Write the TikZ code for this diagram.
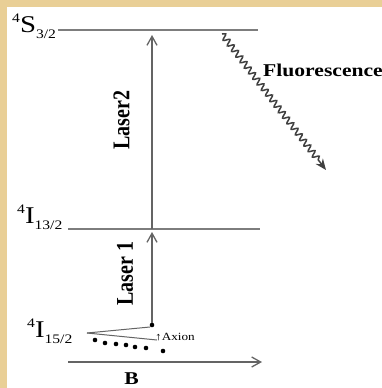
\documentclass[tikz,border=0pt]{standalone}
\usepackage{fontspec}
\setmainfont{Liberation Serif}
\usepackage{graphicx}
\usetikzlibrary{arrows.meta,decorations.pathmorphing}
\definecolor{parch}{RGB}{233,207,150}
\definecolor{lvlcol}{RGB}{125,125,125}
\definecolor{arrcol}{RGB}{100,100,100}
\newcommand{\hs}[1]{\scalebox{1.2}[1]{#1}}
\newcommand{\vs}[1]{\scalebox{1}[1.2]{#1}}
\newcommand{\lvlname}[3]{\hs{{\fontsize{13}{13}\selectfont\raisebox{10pt}{#1}}{\fontsize{24}{24}\selectfont #2}{\fontsize{13}{13}\selectfont\raisebox{-6pt}{#3}}}}
\begin{document}
\begin{tikzpicture}[x=1pt,y=-1pt,
  levelline/.style={draw=lvlcol,line width=2pt},
  laser/.style={draw=arrcol,line width=1.3pt,-{Straight Barb[length=9pt,width=10pt]}},
  thinline/.style={draw=arrcol,line width=1pt},
  lab/.style={inner sep=0pt,font=\fontsize{20}{20}\selectfont\bfseries},
  lvltxt/.style={inner sep=0pt,anchor=base west},
  dotnode/.style={circle,fill=black,inner sep=0pt,minimum size=4.6pt},
  fluor/.style={draw=black!75,line width=1.5pt,decorate,
    decoration={snake,amplitude=3pt,segment length=7pt,post length=10pt},
    -{Stealth[length=11pt,width=9pt]}}]
\useasboundingbox (0,0) rectangle (382,388);
\fill[parch] (0,0) rectangle (382,388);
\fill[white] (7,7) rectangle (400,400);

% energy levels
\coordinate (s1) at (58,30);  \coordinate (s2) at (258,30);
\coordinate (m1) at (68,229); \coordinate (m2) at (260,229);
\draw[levelline] (s1) -- (s2);
\draw[levelline] (m1) -- (m2);

\node[lvltxt] (lS) at (12,32) {\lvlname{4}{S}{3/2}};
\node[lvltxt] (lI13) at (17,223) {\lvlname{4}{I}{13/2}};
\node[lvltxt] (lI15) at (27,337) {\lvlname{4}{I}{15/2}};

% lasers
\node[dotnode] (ax) at (152,325) {};
\coordinate (l1e) at (152,232);
\coordinate (l2s) at (152,229);
\coordinate (l2e) at (152,35);
\draw[laser] (ax) -- (l1e);
\draw[laser] (l2s) -- (l2e);
\node[lab,rotate=90] (las2) at (121.5,120) {\vs{Laser2}};
\node[lab,rotate=90] (las1) at (125,273.5) {\vs{Laser 1}};

% fluorescence
\coordinate (f0) at (222,34);
\coordinate (f1) at (326,170);
\draw[fluor] (f0) -- (f1);
\node[inner sep=0pt,anchor=base west,font=\fontsize{18}{18}\selectfont\bfseries] (fl) at (263,76) {\hs{Fluorescence}};

% axion wedge and dots
\coordinate (w0) at (87,333);
\coordinate (w1) at (150,327);
\coordinate (w2) at (157,340);
\draw[thinline] (w0) -- (w1);
\draw[thinline] (w0) -- (w2);
\node[dotnode] (d1) at (95,340) {};
\node[dotnode] (d2) at (105,343) {};
\node[dotnode] (d3) at (116,344) {};
\node[dotnode] (d4) at (126,345) {};
\node[dotnode] (d5) at (135,347) {};
\node[dotnode] (d6) at (146,348) {};
\node[dotnode] (d7) at (163,351) {};
\node[inner sep=0pt,anchor=base west,font=\fontsize{11}{11}\selectfont] (axl) at (155,340) {\hs{↑Axion}};

% magnetic field
\coordinate (b0) at (68,362);
\coordinate (b1) at (262,362);
\draw[laser] (b0) -- (b1);
\node[inner sep=0pt,anchor=base,font=\fontsize{18}{18}\selectfont\bfseries] (bl) at (131.5,384) {\hs{B}};
\end{tikzpicture}
\end{document}
